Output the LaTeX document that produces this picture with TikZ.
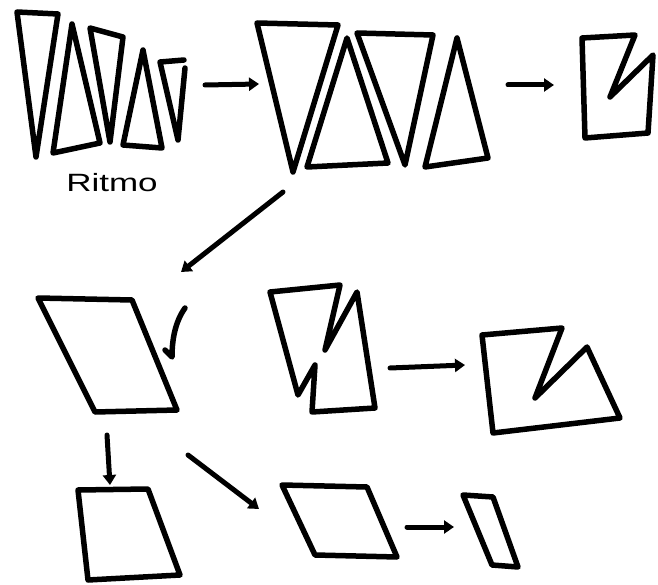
\documentclass[tikz,border=0pt]{standalone}
\usepackage{fontspec}
\setmainfont{Liberation Sans}
\usetikzlibrary{arrows.meta}
\begin{document}
\begin{tikzpicture}[x=1pt,y=-1pt,
  ink/.style={line width=5.5pt,line join=round,line cap=round,black},
  flow/.style={line width=5pt,line cap=round,-{Triangle[length=10pt,width=13pt]}},
  label/.style={inner sep=0pt,font=\fontsize{25}{28}\selectfont}]
\useasboundingbox (0,0) rectangle (658,585);
% --- top row: small triangles
\draw[ink] (17,12) -- (58,14) -- (36,157) -- cycle;
\draw[ink] (72,24) -- (100,143) -- (53,153) -- cycle;
\draw[ink] (90,28) -- (123,37) -- (110,142) -- cycle;
\draw[ink] (143,50) -- (162,148) -- (123,145) -- cycle;
\draw[ink] (185,68) -- (178,140) -- (160,62) -- (184,60);
\node[label] (ritmo) at (112,183) {\scalebox{1.4}[1]{Ritmo}};
% --- top row: big triangles
\draw[ink] (257,23) -- (338,25) -- (293,172) -- cycle;
\draw[ink] (347,38) -- (388,163) -- (307,167) -- cycle;
\draw[ink] (357,33) -- (433,35) -- (405,165) -- cycle;
\draw[ink] (457,38) -- (488,158) -- (425,167) -- cycle;
% --- top row: notched rectangle
\draw[ink] (582,38) -- (635,35) -- (610,97) -- (653,55) -- (648,133) -- (585,138) -- cycle;
% --- middle row
\draw[ink] (38,298) -- (132,300) -- (177,410) -- (95,412) -- cycle;
\draw[ink] (185,308) .. controls (175,322) and (172,340) .. (172,357) -- (165,350);
\draw[ink] (270,292) -- (340,285) -- (325,350) -- (357,292) -- (375,408) -- (312,412) -- (315,365) -- (298,395) -- cycle;
\draw[ink] (482,335) -- (562,328) -- (535,398) -- (587,347) -- (620,418) -- (493,433) -- cycle;
% --- bottom row
\draw[ink] (78,490) -- (148,489) -- (180,575) -- (88,580) -- cycle;
\draw[ink] (282,485) -- (367,487) -- (397,557) -- (315,555) -- cycle;
\draw[ink] (463,495) -- (493,497) -- (518,567) -- (492,565) -- cycle;
% --- arrow end points
\coordinate (a1s) at (205,85);  \coordinate (a1e) at (259,84);
\coordinate (a2s) at (508,85);  \coordinate (a2e) at (554,85);
\coordinate (a3s) at (283,192); \coordinate (a3e) at (181,272);
\coordinate (a4s) at (390,368); \coordinate (a4e) at (465,365);
\coordinate (a5s) at (107,435); \coordinate (a5e) at (110,485);
\coordinate (a6s) at (188,455); \coordinate (a6e) at (259,509);
\coordinate (a7s) at (407,527); \coordinate (a7e) at (454,527);
\draw[flow] (a1s) -- (a1e);
\draw[flow] (a2s) -- (a2e);
\draw[flow] (a3s) -- (a3e);
\draw[flow] (a4s) -- (a4e);
\draw[flow] (a5s) -- (a5e);
\draw[flow] (a6s) -- (a6e);
\draw[flow] (a7s) -- (a7e);
\end{tikzpicture}
\end{document}
